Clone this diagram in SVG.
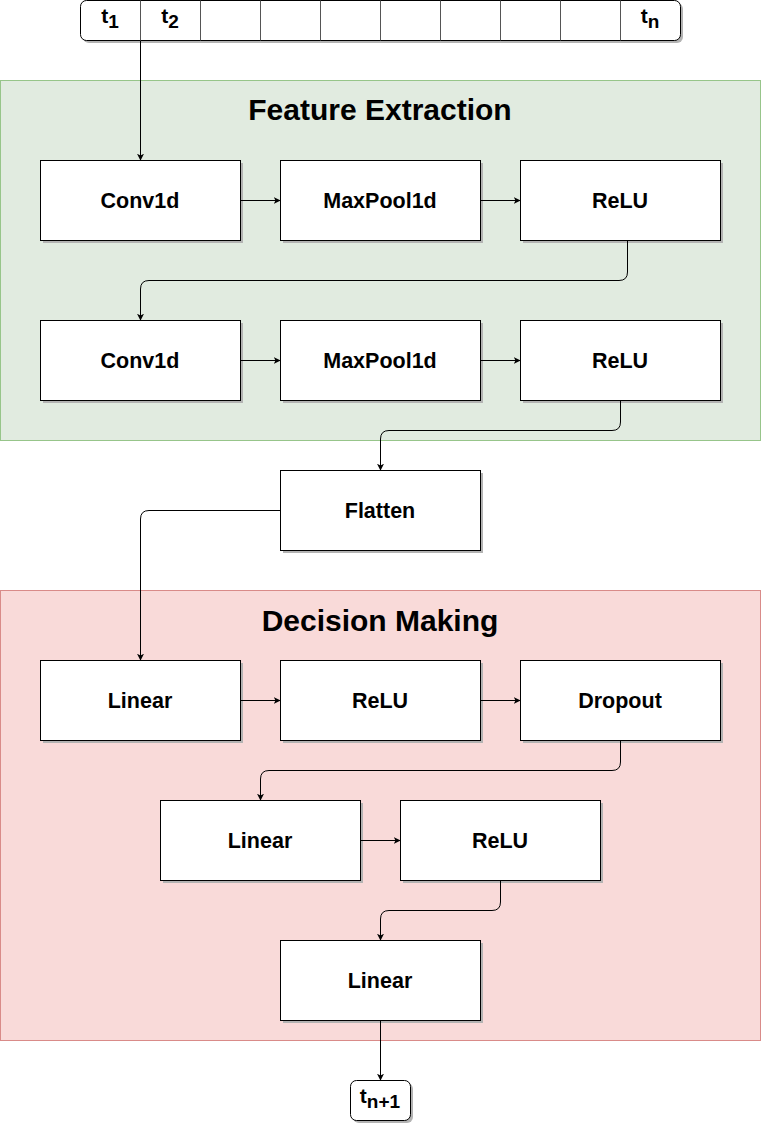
<svg xmlns="http://www.w3.org/2000/svg" width="761" height="1124" viewBox="0 0 761 1124">
<style>
  text { font-family: "Liberation Sans", Arial, sans-serif; font-weight: bold; fill: #000; }
  .box { fill: #ffffff; stroke: #000; stroke-width: 1; }
  .shadow { fill: #b3b3b3; }
  .lbl { font-size: 21.5px; text-anchor: middle; }
  .title { font-size: 30px; text-anchor: middle; }
  .tok { font-size: 21px; text-anchor: middle; }
  .conn { fill: none; stroke: #000; stroke-width: 1; }
</style>
<defs>
  <marker id="arr" viewBox="0 0 10 10" refX="9" refY="5" markerWidth="7" markerHeight="7" orient="auto" markerUnits="userSpaceOnUse">
    <path d="M0,0 L10,5 L0,10 L2.5,5 z" fill="#000"/>
  </marker>
</defs>
<rect width="761" height="1124" fill="#ffffff"/>

<g id="feature-extraction">
  <rect x="0.5" y="80.5" width="760" height="360" fill="#e1ebe0" stroke="#97c58a"/>
  <text class="title" x="380" y="120">Feature Extraction</text>
</g>
<g id="decision-making">
  <rect x="0.5" y="590.5" width="760" height="450" fill="#f9dad9" stroke="#d98b89"/>
  <text class="title" x="380" y="631">Decision Making</text>
</g>

<g id="input-sequence">
  <rect x="83" y="3" width="600" height="40" rx="6" class="shadow"/>
  <rect x="80.5" y="0.5" width="600" height="40" rx="6" class="box"/>
  <g stroke="#555" stroke-width="1">
    <line x1="140.5" y1="0.5" x2="140.5" y2="40.5"/>
    <line x1="200.5" y1="0.5" x2="200.5" y2="40.5"/>
    <line x1="260.5" y1="0.5" x2="260.5" y2="40.5"/>
    <line x1="320.5" y1="0.5" x2="320.5" y2="40.5"/>
    <line x1="380.5" y1="0.5" x2="380.5" y2="40.5"/>
    <line x1="440.5" y1="0.5" x2="440.5" y2="40.5"/>
    <line x1="500.5" y1="0.5" x2="500.5" y2="40.5"/>
    <line x1="560.5" y1="0.5" x2="560.5" y2="40.5"/>
    <line x1="620.5" y1="0.5" x2="620.5" y2="40.5"/>
  </g>
  <text class="tok" x="110" y="23">t<tspan font-size="19" dy="5">1</tspan></text>
  <text class="tok" x="170" y="23">t<tspan font-size="19" dy="5">2</tspan></text>
  <text class="tok" x="650" y="23">t<tspan font-size="19" dy="5">n</tspan></text>
</g>

<g id="conv1d-1"><rect x="43" y="163" width="200" height="80" class="shadow"/><rect x="40.5" y="160.5" width="200" height="80" class="box"/><text class="lbl" x="140" y="208">Conv1d</text></g>
<g id="maxpool-1"><rect x="283" y="163" width="200" height="80" class="shadow"/><rect x="280.5" y="160.5" width="200" height="80" class="box"/><text class="lbl" x="380" y="208">MaxPool1d</text></g>
<g id="relu-1"><rect x="523" y="163" width="200" height="80" class="shadow"/><rect x="520.5" y="160.5" width="200" height="80" class="box"/><text class="lbl" x="620" y="208">ReLU</text></g>

<g id="conv1d-2"><rect x="43" y="323" width="200" height="80" class="shadow"/><rect x="40.5" y="320.5" width="200" height="80" class="box"/><text class="lbl" x="140" y="368">Conv1d</text></g>
<g id="maxpool-2"><rect x="283" y="323" width="200" height="80" class="shadow"/><rect x="280.5" y="320.5" width="200" height="80" class="box"/><text class="lbl" x="380" y="368">MaxPool1d</text></g>
<g id="relu-2"><rect x="523" y="323" width="200" height="80" class="shadow"/><rect x="520.5" y="320.5" width="200" height="80" class="box"/><text class="lbl" x="620" y="368">ReLU</text></g>

<g id="flatten"><rect x="283" y="473" width="200" height="80" class="shadow"/><rect x="280.5" y="470.5" width="200" height="80" class="box"/><text class="lbl" x="380" y="518">Flatten</text></g>

<g id="linear-1"><rect x="43" y="663" width="200" height="80" class="shadow"/><rect x="40.5" y="660.5" width="200" height="80" class="box"/><text class="lbl" x="140" y="708">Linear</text></g>
<g id="relu-3"><rect x="283" y="663" width="200" height="80" class="shadow"/><rect x="280.5" y="660.5" width="200" height="80" class="box"/><text class="lbl" x="380" y="708">ReLU</text></g>
<g id="dropout"><rect x="523" y="663" width="200" height="80" class="shadow"/><rect x="520.5" y="660.5" width="200" height="80" class="box"/><text class="lbl" x="620" y="708">Dropout</text></g>

<g id="linear-2"><rect x="163" y="803" width="200" height="80" class="shadow"/><rect x="160.5" y="800.5" width="200" height="80" class="box"/><text class="lbl" x="260" y="848">Linear</text></g>
<g id="relu-4"><rect x="403" y="803" width="200" height="80" class="shadow"/><rect x="400.5" y="800.5" width="200" height="80" class="box"/><text class="lbl" x="500" y="848">ReLU</text></g>

<g id="linear-3"><rect x="283" y="943" width="200" height="80" class="shadow"/><rect x="280.5" y="940.5" width="200" height="80" class="box"/><text class="lbl" x="380" y="988">Linear</text></g>

<g id="output">
  <rect x="353" y="1083" width="60" height="40" rx="6" class="shadow"/>
  <rect x="350.5" y="1080.5" width="60" height="40" rx="6" class="box"/>
  <text class="tok" x="380" y="1103">t<tspan font-size="19" dy="5">n+1</tspan></text>
</g>

<g id="connectors">
  <path class="conn" d="M140.5,41 V160" marker-end="url(#arr)"/>
  <path class="conn" d="M241,200.5 H280" marker-end="url(#arr)"/>
  <path class="conn" d="M481,200.5 H520" marker-end="url(#arr)"/>
  <path class="conn" d="M627.5,241 V272 Q627.5,280.5 619,280.5 H149 Q140.5,280.5 140.5,289 V320" marker-end="url(#arr)"/>
  <path class="conn" d="M241,360.5 H280" marker-end="url(#arr)"/>
  <path class="conn" d="M481,360.5 H520" marker-end="url(#arr)"/>
  <path class="conn" d="M620.5,401 V422 Q620.5,430.5 612,430.5 H389 Q380.5,430.5 380.5,439 V470" marker-end="url(#arr)"/>
  <path class="conn" d="M280,510.5 H149 Q140.5,510.5 140.5,519 V660" marker-end="url(#arr)"/>
  <path class="conn" d="M241,700.5 H280" marker-end="url(#arr)"/>
  <path class="conn" d="M481,700.5 H520" marker-end="url(#arr)"/>
  <path class="conn" d="M620.5,741 V762 Q620.5,770.5 612,770.5 H269 Q260.5,770.5 260.5,779 V800" marker-end="url(#arr)"/>
  <path class="conn" d="M361,840.5 H400" marker-end="url(#arr)"/>
  <path class="conn" d="M500.5,881 V902 Q500.5,910.5 492,910.5 H389 Q380.5,910.5 380.5,919 V940" marker-end="url(#arr)"/>
  <path class="conn" d="M380.5,1021 V1080" marker-end="url(#arr)"/>
</g>
</svg>
